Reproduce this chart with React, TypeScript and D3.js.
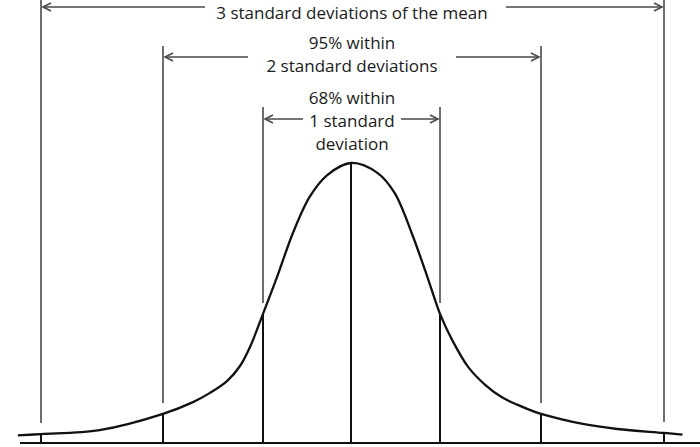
import React from "react";
import * as d3 from "d3";

const W = 700;
const H = 447;

// sigma positions of the marked lines
const sigmaMarks = [-3, -2, -1, 0, 1, 2, 3];
// hand-drawn illustration: pixel spacing of each sigma mark is uneven
const sigmaPixel = [41, 163, 263, 351, 440, 541, 664];

// curve: sigma and relative height (peak = 100)
const curveSigma = [-3.19, -3, -2.52, -2, -1.7, -1.53, -1.36, -1.23, -1.13, -1, -0.84, -0.66, -0.47, -0.27, 0, 0.3, 0.49, 0.69, 0.87, 1, 1.12, 1.28, 1.45, 1.61, 1.77, 1.94, 2, 2.34, 2.62, 3, 3.15];
const curveHeight = [2.7, 3.2, 4.6, 10.4, 14.6, 17.9, 22.1, 27.5, 34.3, 46.1, 59.3, 75, 87.9, 95.7, 100, 96.4, 89.3, 74.3, 58.2, 46.1, 36.8, 27.1, 20.7, 16.4, 13.6, 11.1, 10.4, 6.8, 5, 3.6, 3.0];

// bracket annotations
const bracketSigma = [3, 2, 1];
const bracketLabels = [
  ["3 standard deviations of the mean"],
  ["95% within", "2 standard deviations"],
  ["68% within", "1 standard", "deviation"],
];

export default function App() {
  const x = d3.scaleLinear().domain(sigmaMarks).range(sigmaPixel);
  const y = d3.scaleLinear().domain([0, 100]).range([443, 163]);
  const baseY = y(0);

  const pts: [number, number][] = curveSigma.map((s, i) => [s, curveHeight[i]]);
  const line = d3
    .line<[number, number]>()
    .x((d) => x(d[0]))
    .y((d) => y(d[1]))
    .curve(d3.curveCatmullRom.alpha(0.5));

  const heightAt = (s: number) => curveHeight[curveSigma.indexOf(s)];

  // layout of brackets
  const arrowY = [7, 57, 119];
  const lineTop = [0, 46, 107];
  const textBaselines = [[19], [49, 72], [104, 127, 150]];
  const textGap = [[205, 506], [248, 456], [303, 401]];

  const grey = "#4a4a4a";
  const ah = 8;

  return (
    <svg width={W} height={H} style={{ position: "absolute", left: 0, top: 0, background: "#fff" }}>
      <rect width={W} height={H} fill="#fff" />
      {/* baseline */}
      <line x1={20} x2={700} y1={baseY} y2={baseY} stroke="#111" strokeWidth={2} />
      {/* grey bracket lines above the curve */}
      {bracketSigma.map((s, bi) =>
        [-s, s].map((sv) => {
          const cx = x(sv);
          const cy = y(heightAt(sv));
          return (
            <line
              key={`g${bi}${sv}`}
              x1={cx}
              x2={cx}
              y1={lineTop[bi]}
              y2={cy - 11}
              stroke={grey}
              strokeWidth={1.6}
            />
          );
        })
      )}
      {/* black lines under the curve */}
      {sigmaMarks.map((s) => (
        <line
          key={`b${s}`}
          x1={x(s)}
          x2={x(s)}
          y1={y(heightAt(s))}
          y2={baseY}
          stroke="#111"
          strokeWidth={2}
        />
      ))}
      {/* curve */}
      <path d={line(pts) || ""} fill="none" stroke="#111" strokeWidth={2.3} />
      {/* arrows and labels */}
      {bracketSigma.map((s, bi) => {
        const xl = x(-s) + 2;
        const xr = x(s) - 2;
        const ay = arrowY[bi];
        const [g1, g2] = textGap[bi];
        return (
          <g key={`a${bi}`}>
            <line x1={xl} x2={g1} y1={ay} y2={ay} stroke={grey} strokeWidth={1.6} />
            <line x1={g2} x2={xr} y1={ay} y2={ay} stroke={grey} strokeWidth={1.6} />
            <polyline
              points={`${xl + ah},${ay - 4} ${xl},${ay} ${xl + ah},${ay + 4}`}
              fill="none"
              stroke={grey}
              strokeWidth={1.6}
            />
            <polyline
              points={`${xr - ah},${ay - 4} ${xr},${ay} ${xr - ah},${ay + 4}`}
              fill="none"
              stroke={grey}
              strokeWidth={1.6}
            />
            {bracketLabels[bi].map((t, li) => (
              <text
                key={li}
                x={352}
                y={textBaselines[bi][li]}
                textAnchor="middle"
                fontFamily="'Open Sans', sans-serif"
                fontSize={17}
                fill="#1a1a1a"
              >
                {t}
              </text>
            ))}
          </g>
        );
      })}
    </svg>
  );
}
